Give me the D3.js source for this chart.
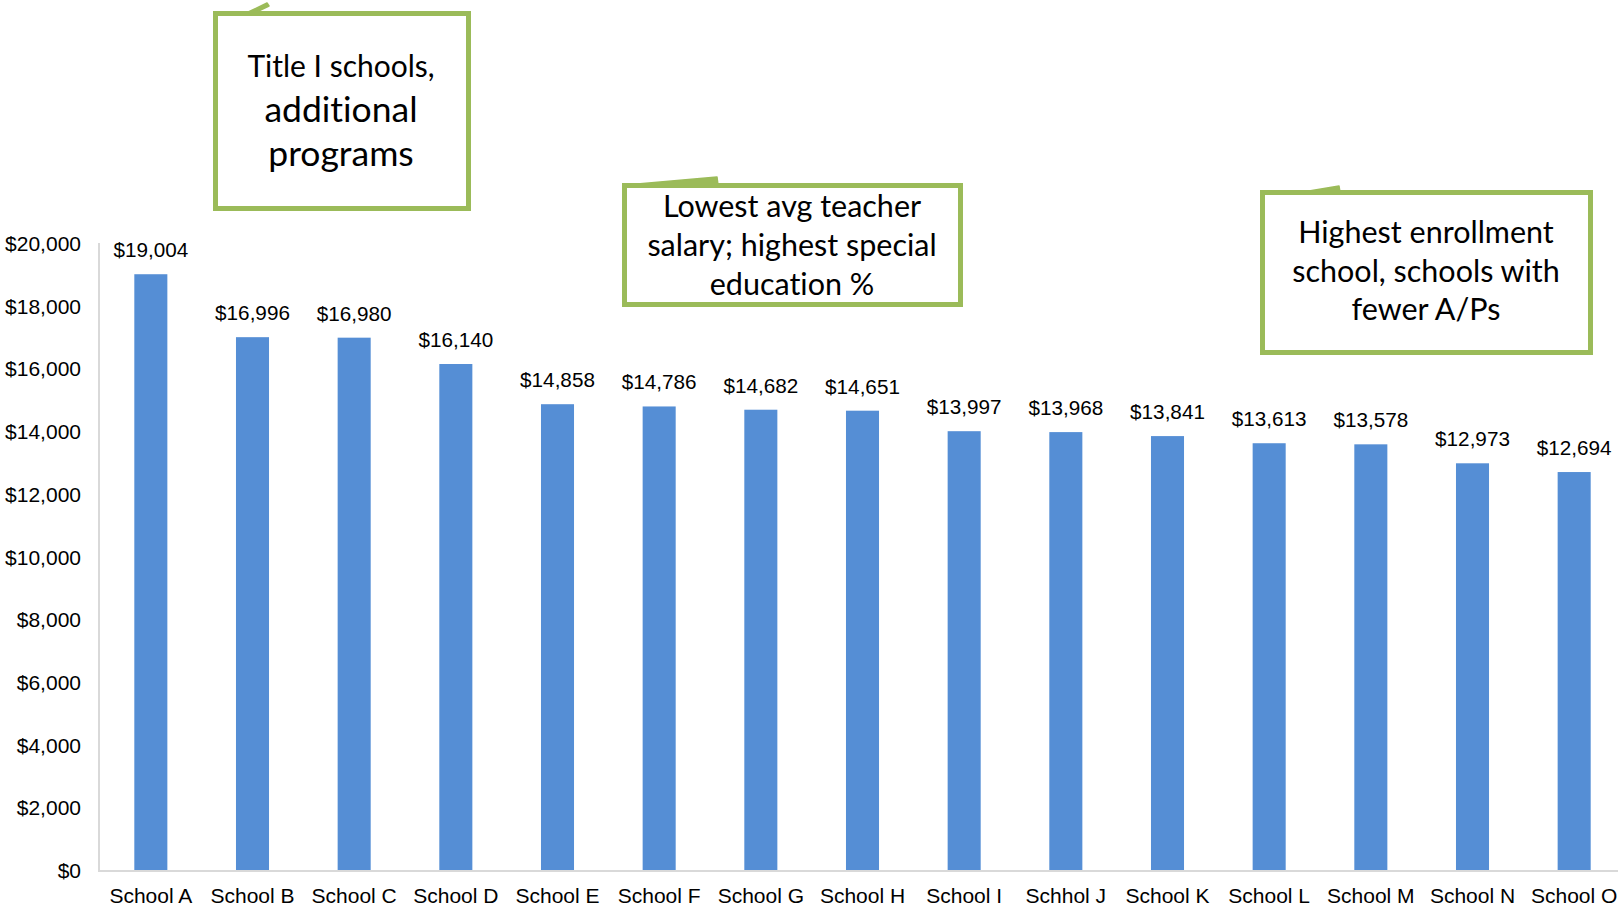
<!DOCTYPE html>
<html>
<head>
<meta charset="utf-8">
<script src="https://cdn.jsdelivr.net/npm/d3@7"></script>
<style>
  html, body { margin: 0; padding: 0; background: #fff; overflow: hidden; }
  svg { display: block; }
  text { font-variant-ligatures: none; }
</style>
</head>
<body>
<svg id="chart" width="1618" height="908"></svg>
<script>
const schools = ["School A","School B","School C","School D","School E","School F","School G","School H","School I","Schhol J","School K","School L","School M","School N","School O"];
const perPupil = [19004,16996,16980,16140,14858,14786,14682,14651,13997,13968,13841,13613,13578,12973,12694];
const yTicks = [0,2000,4000,6000,8000,10000,12000,14000,16000,18000,20000];

const callout1 = ["Title I schools,", "additional", "programs"];
const callout2 = ["Lowest avg teacher", "salary; highest special", "education %"];
const callout3 = ["Highest enrollment", "school, schools with", "fewer A/Ps"];

(function () {
const svg = d3.select("#chart");
const W = 1618;
const plotLeft = 100, plotRight = 1625, plotTop = 243, plotBottom = 870;

const x = d3.scaleBand().domain(schools).range([plotLeft, plotRight]).paddingInner(0.675).paddingOuter(0.3375);
const y = d3.scaleLinear().domain([0, 20000]).range([plotBottom, plotTop]);
const fmt = v => "$" + d3.format(",")(v);

const chartFont = "'Liberation Sans', Arial, sans-serif";
const calloutFont = "Lato, 'Open Sans', sans-serif";

// axis lines
svg.append("line").attr("x1", plotLeft - 1).attr("x2", plotLeft - 1).attr("y1", y(20000)).attr("y2", plotBottom + 1)
  .attr("stroke", "#d9d9d9").attr("stroke-width", 2);
svg.append("line").attr("x1", plotLeft - 2).attr("x2", W).attr("y1", plotBottom + 1).attr("y2", plotBottom + 1)
  .attr("stroke", "#d9d9d9").attr("stroke-width", 2);

// y axis
const yAxis = d3.axisLeft(y).tickValues(yTicks).tickFormat(fmt).tickSize(0).tickPadding(19);
const gy = svg.append("g").attr("transform", `translate(${plotLeft},0)`).call(yAxis);
gy.select(".domain").remove();
gy.selectAll("text").attr("font-family", chartFont).attr("font-size", 21).attr("fill", "#000").attr("dy", "0.36em");

// x axis
const xAxis = d3.axisBottom(x).tickSize(0).tickPadding(18);
const gx = svg.append("g").attr("transform", `translate(0,${plotBottom})`).call(xAxis);
gx.select(".domain").remove();
gx.selectAll("text").attr("font-family", chartFont).attr("font-size", 21).attr("fill", "#000");

// bars
const data = schools.map((s, i) => ({s, v: perPupil[i]}));
svg.append("g").selectAll("rect").data(data).join("rect")
  .attr("x", d => x(d.s)).attr("width", x.bandwidth())
  .attr("y", d => y(d.v)).attr("height", d => y(0) - y(d.v))
  .attr("fill", "#558ed5");

// data labels
svg.append("g").selectAll("text").data(data).join("text")
  .attr("x", d => x(d.s) + x.bandwidth() / 2).attr("y", d => y(d.v) - 17)
  .attr("text-anchor", "middle").attr("font-family", chartFont).attr("font-size", 20.7).attr("fill", "#000")
  .text(d => fmt(d.v));

// callouts
const green = "#9bbb59";
function callout(box, tail, lines, cx, baselines, sizes) {
  svg.append("path").attr("d", tail).attr("fill", green).attr("stroke", green).attr("stroke-width", 1.5).attr("stroke-linejoin", "round");
  svg.append("rect").attr("x", box[0]).attr("y", box[1]).attr("width", box[2]).attr("height", box[3])
    .attr("fill", "#fff").attr("stroke", green).attr("stroke-width", 5);
  lines.forEach((t, i) => {
    svg.append("text").attr("x", cx).attr("y", baselines[i]).attr("text-anchor", "middle")
      .attr("font-family", calloutFont).attr("font-size", sizes[i]).attr("fill", "#000").text(t);
  });
}
callout([215.5, 13.5, 253, 195], "M244,14 L267,3 L269,6 L252,14 Z", callout1, 341, [77, 122, 166], [30, 35.5, 35.5]);
callout([624.5, 185.5, 336, 119], "M626,185 L717,177 L718,185 Z", callout2, 792, [217, 256, 295], [30.5, 30.5, 30.5]);
callout([1262.5, 192.5, 328, 160], "M1303,192 L1339,186 L1340,192 Z", callout3, 1426, [243, 282, 320], [30.5, 30.5, 30.5]);
})();
</script>
</body>
</html>
